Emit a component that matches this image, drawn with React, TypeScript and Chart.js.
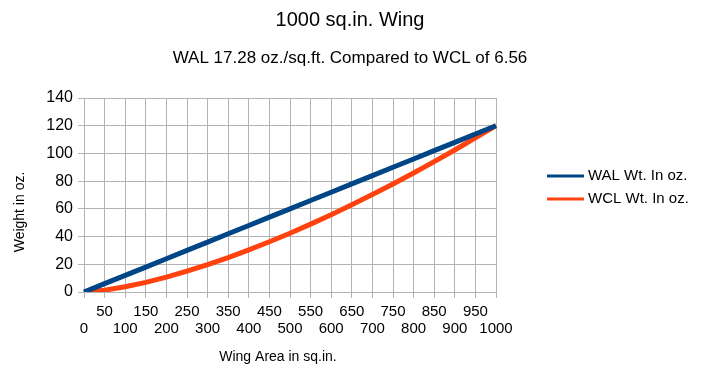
import React, { useEffect, useRef } from "react";
import { Chart, registerables } from "chart.js";

Chart.register(...registerables);

const areaLabels = ["0", "50", "100", "150", "200", "250", "300", "350", "400", "450", "500", "550", "600", "650", "700", "750", "800", "850", "900", "950", "1000"];
const walWeight = [0, 6, 12, 18, 24, 30, 36, 42, 48, 54, 60, 66, 72, 78, 84, 90, 96, 102, 108, 114, 120];
const wclWeight = [0, 1.34, 3.8, 6.97, 10.74, 15.01, 19.73, 24.86, 30.37, 36.24, 42.44, 48.97, 55.79, 62.91, 70.31, 77.97, 85.9, 94.08, 102.5, 111.16, 120.05];
const seriesNames = ["WAL Wt. In oz.", "WCL Wt. In oz."];
const seriesColors = ["#004586", "#ff420e"];
const chartTitle = "1000 sq.in. Wing";
const chartSubtitle = "WAL 17.28 oz./sq.ft. Compared to WCL of 6.56";
const xAxisTitle = "Wing Area in sq.in.";
const yAxisTitle = "Weight in oz.";
const yMin = 0;
const yMax = 140;
const yStep = 20;

const FONT = "'Liberation Sans', Arial, Helvetica, sans-serif";
const GRID = "#b3b3b3";

const textPlugin = {
  id: "textPlugin",
  afterDraw(chart: any) {
    const ctx = chart.ctx as CanvasRenderingContext2D;
    ctx.save();
    ctx.fillStyle = "#000";
    ctx.textAlign = "center";
    ctx.textBaseline = "middle";
    ctx.font = `20px ${FONT}`;
    ctx.fillText(chartTitle, 350, 20);
    ctx.font = `17px ${FONT}`;
    ctx.fillText(chartSubtitle, 350, 58);
    ctx.font = `14px ${FONT}`;
    ctx.fillText(xAxisTitle, 278, 357);
    ctx.save();
    ctx.translate(20, 212);
    ctx.rotate(-Math.PI / 2);
    ctx.fillText(yAxisTitle, 0, 0);
    ctx.restore();
    // legend
    ctx.font = `15px ${FONT}`;
    ctx.textAlign = "left";
    const ys = [176, 199];
    seriesNames.forEach((name, i) => {
      ctx.strokeStyle = seriesColors[i];
      ctx.lineWidth = 3;
      ctx.beginPath();
      ctx.moveTo(547, ys[i]);
      ctx.lineTo(584, ys[i]);
      ctx.stroke();
      ctx.fillText(name, 588, ys[i]);
    });
    ctx.restore();
  },
};

export default function App() {
  const ref = useRef<HTMLCanvasElement | null>(null);
  useEffect(() => {
    if (!ref.current) return;
    const chart = new Chart(ref.current, {
      type: "line",
      data: {
        labels: areaLabels.map((l, i) => (i % 2 ? [l, ""] : ["", l])),
        datasets: [
          {
            label: seriesNames[0],
            data: walWeight,
            borderColor: seriesColors[0],
            backgroundColor: seriesColors[0],
            borderWidth: 5,
            pointRadius: 0,
            tension: 0,
          },
          {
            label: seriesNames[1],
            data: wclWeight,
            borderColor: seriesColors[1],
            backgroundColor: seriesColors[1],
            borderWidth: 5,
            pointRadius: 0,
            tension: 0,
          },
        ],
      },
      options: {
        responsive: false,
        animation: false,
        devicePixelRatio: 1,
        layout: { padding: { left: 0, right: 205, top: 98, bottom: 0 } },
        plugins: {
          legend: { display: false },
          title: { display: false },
          tooltip: { enabled: false },
        },
        scales: {
          x: {
            type: "category",
            offset: false,
            grid: { color: GRID, tickLength: 6, drawTicks: true },
            border: { color: GRID },
            ticks: {
              autoSkip: false,
              maxRotation: 0,
              minRotation: 0,
              padding: 5,
              color: "#000",
              font: { family: FONT, size: 15, lineHeight: 1.15 },
            },
            afterFit(scale: any) {
              scale.height = 377 - 292;
            },
          },
          y: {
            min: yMin,
            max: yMax,
            grid: { color: GRID, tickLength: 6, drawTicks: true },
            border: { color: GRID },
            ticks: {
              stepSize: yStep,
              padding: 5,
              color: "#000",
              font: { family: FONT, size: 16 },
            },
            afterFit(scale: any) {
              scale.width = 84;
            },
          },
        },
      },
      plugins: [textPlugin],
    } as any);
    return () => chart.destroy();
  }, []);
  return (
    <div style={{ position: "absolute", left: 0, top: 0, width: 701, height: 377, background: "#fff" }}>
      <canvas ref={ref} width={701} height={377} style={{ width: 701, height: 377, display: "block" }} />
    </div>
  );
}
